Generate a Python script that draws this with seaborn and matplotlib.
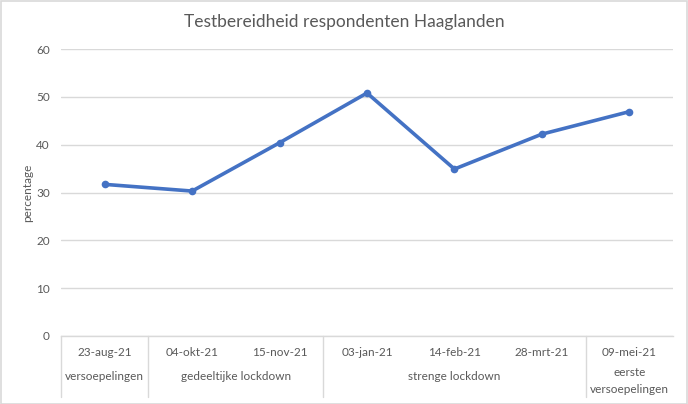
import matplotlib
matplotlib.use("Agg")
import matplotlib.pyplot as plt
from matplotlib.patches import Rectangle
import matplotlib.transforms as mtransforms
import pandas as pd
import seaborn as sns

# data
dates = ["23-aug-21", "04-okt-21", "15-nov-21", "03-jan-21", "14-feb-21", "28-mrt-21", "09-mei-21"]
pct = [31.7, 30.3, 40.4, 50.8, 34.9, 42.2, 46.9]
groups = ["versoepelingen", "gedeeltijke lockdown", "strenge lockdown", "eerste\nversoepelingen"]
group_sizes = [1, 2, 3, 1]
yticks = [0, 10, 20, 30, 40, 50, 60]

sns.set_theme(style="white")
plt.rcParams["font.family"] = ["Lato", "DejaVu Sans"]

txt = "#595959"
grid = "#D9D9D9"
blue = "#4472C4"

df = pd.DataFrame({"datum": dates, "percentage": pct})

fig = plt.figure(figsize=(6.88, 4.04), dpi=100)
ax = fig.add_axes([61 / 688, 68 / 404, 612 / 688, 287 / 404])

sns.lineplot(data=df, x="datum", y="percentage", ax=ax, color=blue, linewidth=2.6,
             marker="o", markersize=5.5, markeredgewidth=0, sort=False)

ax.set_xlim(-0.5, len(dates) - 0.5)
ax.set_ylim(0, 60)
ax.set_yticks(yticks)
ax.yaxis.grid(True, color=grid, linewidth=1)
ax.tick_params(axis="y", length=0, labelsize=8.5, labelcolor=txt, pad=8)
ax.set_xticks([])
ax.set_xlabel("")
ax.set_ylabel("percentage", fontsize=8.5, color=txt)
ax.yaxis.set_label_coords(-28 / 612, 0.5)
for s in ["top", "right", "left"]:
    ax.spines[s].set_visible(False)
ax.spines["bottom"].set_color(grid)
ax.spines["bottom"].set_linewidth(1)

# two-level category axis below the plot
trans = mtransforms.blended_transform_factory(ax.transData, ax.transAxes)
px = 1 / 287
for i, d in enumerate(dates):
    ax.text(i, -16 * px, d, transform=trans, ha="center", va="center",
            fontsize=8.5, color=txt)

start = 0
bounds = [-0.5]
for g, n in zip(groups, group_sizes):
    centre = start + (n - 1) / 2
    yoff = -45 if "\n" in g else -41
    ax.text(centre, yoff * px, g, transform=trans, ha="center", va="center",
            fontsize=8.5, color=txt, linespacing=1.75)
    start += n
    bounds.append(start - 0.5)

for b in bounds[:-1]:
    ax.plot([b, b], [0, -61 * px], transform=trans, color=grid, linewidth=1,
            clip_on=False)

fig.text(0.5, 1 - 22 / 404, "Testbereidheid respondenten Haaglanden", ha="center",
         va="center", fontsize=12.5, color=txt)

fig.patches.append(Rectangle((0.001, 0.001), 0.997, 0.996, transform=fig.transFigure,
                             fill=False, edgecolor=grid, linewidth=1.2))

fig.savefig("out.png", dpi=100)
